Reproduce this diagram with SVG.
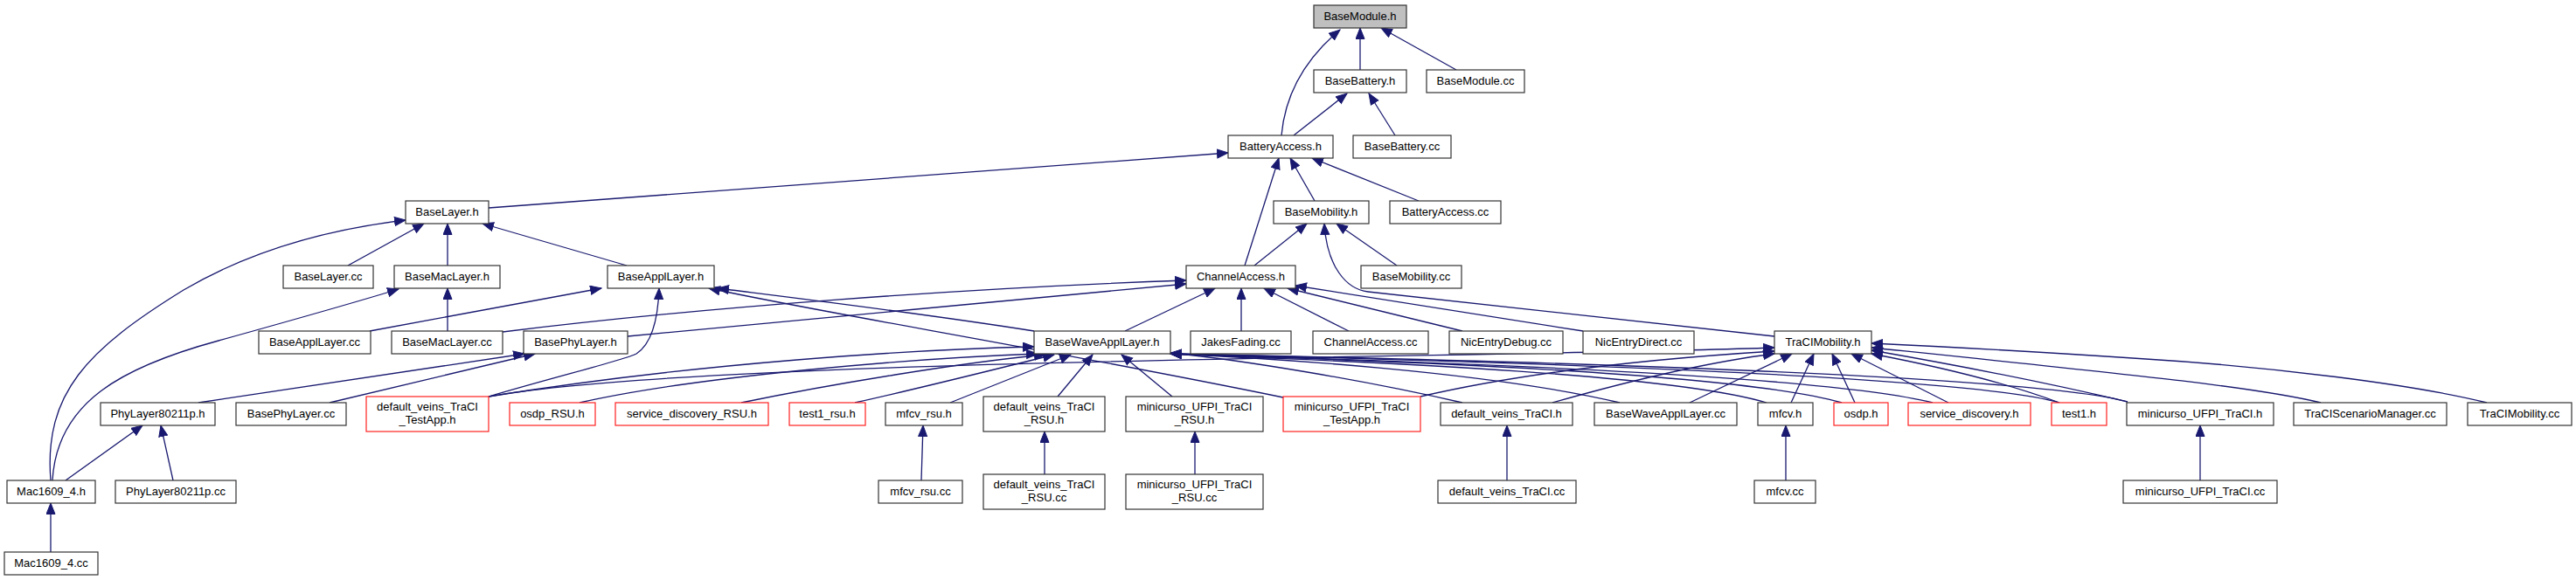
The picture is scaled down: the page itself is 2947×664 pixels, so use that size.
<svg xmlns="http://www.w3.org/2000/svg" width="2947" height="664" viewBox="0 0 2947 664">
<defs>
<style>
.n rect{fill:#fff;stroke:#333;stroke-width:1.2}
.n.r rect{stroke:#ff2020}
.n.g rect{fill:#bfbfbf}
.n text{font-family:"Liberation Sans",Arial,sans-serif;font-size:13px;fill:#000;text-anchor:middle}
.e path{fill:none;stroke:#191970;stroke-width:1.3;marker-end:url(#a)}
</style>
<marker id="a" markerUnits="userSpaceOnUse" markerWidth="14" markerHeight="12" refX="13" refY="5.5" orient="auto"><path d="M0.5,0.5L13,5.5L0.5,10.5z" fill="#191970" stroke="#191970" stroke-width="1"/></marker>
</defs>
<rect width="2947" height="664" fill="#fff"/>
<g id="edges" class="e">
<path d="M1466,155 C1470,110 1490,70 1533,34"/>
<path d="M1556,80 L1556,32"/>
<path d="M1666,80 L1580,32"/>
<path d="M1480,155 L1541,107"/>
<path d="M1596,155 L1566,107"/>
<path d="M559,238 L1405,175"/>
<path d="M1504,230 L1476,181"/>
<path d="M1424,304 L1463,181"/>
<path d="M1623,230 L1501,181"/>
<path d="M1435,304 L1495,256"/>
<path d="M1598,304 L1529,256"/>
<path d="M2030,385 L1565,334 C1540,331 1518,305 1515,256"/>
<path d="M398,304 L485,256"/>
<path d="M512,304 L512,256"/>
<path d="M717,304 L552,256"/>
<path d="M58,550 C50,450 100,400 210,332 C290,285 380,262 464,252"/>
<path d="M60,550 C65,460 140,420 250,390 C340,365 410,345 456,331"/>
<path d="M75,550 L163,487"/>
<path d="M198,550 L184,487"/>
<path d="M58,632 L58,576"/>
<path d="M512,379 L512,330"/>
<path d="M227,461 L600,405"/>
<path d="M377,461 L612,405"/>
<path d="M718,385 L1357,325"/>
<path d="M575,380 C800,352 1100,330 1357,321"/>
<path d="M423,379 L688,330"/>
<path d="M559,454 C640,430 715,412 728,405 C748,392 753,360 754,330"/>
<path d="M1183,379 C1050,358 900,340 821,330"/>
<path d="M1468,455 C1200,400 950,360 811,330"/>
<path d="M1287,379 L1390,330"/>
<path d="M1420,379 L1420,330"/>
<path d="M1543,379 L1446,330"/>
<path d="M1673,379 L1473,330"/>
<path d="M1811,379 L1482,327"/>
<path d="M559,454 C800,415 1050,400 1183,397"/>
<path d="M663,461 C800,430 1050,410 1187,405"/>
<path d="M848,461 C950,440 1100,415 1196,406"/>
<path d="M978,461 C1050,445 1150,420 1206,406"/>
<path d="M1087,461 L1225,406"/>
<path d="M1210,454 L1250,406"/>
<path d="M1341,454 L1283,406"/>
<path d="M1673,461 C1560,435 1420,412 1339,404"/>
<path d="M1853,461 C1700,425 1450,410 1339,405"/>
<path d="M2021,461 C1900,425 1500,412 1339,405"/>
<path d="M2107,461 C1980,425 1550,412 1339,405"/>
<path d="M2211,461 C2080,428 1600,413 1339,405"/>
<path d="M2356,461 C2250,430 1700,413 1339,405"/>
<path d="M2434,460 C2330,430 1750,413 1339,405"/>
<path d="M559,454 C800,410 1700,410 2030,398"/>
<path d="M1625,454 C1750,425 1900,410 2030,402"/>
<path d="M1776,461 C1850,440 1950,415 2030,405"/>
<path d="M1933,461 L2050,405"/>
<path d="M2049,461 L2075,405"/>
<path d="M2122,461 L2096,405"/>
<path d="M2229,461 L2118,405"/>
<path d="M2356,461 C2300,440 2220,420 2141,405"/>
<path d="M2434,460 C2350,440 2250,420 2141,401"/>
<path d="M2655,461 C2580,443 2450,430 2141,398"/>
<path d="M2845,461 C2760,440 2600,420 2455,411 C2350,404 2250,398 2141,393"/>
<path d="M1054,550 L1056,487"/>
<path d="M1195,543 L1195,494"/>
<path d="M1367,543 L1367,494"/>
<path d="M1724,550 L1724,487"/>
<path d="M2043,550 L2043,487"/>
<path d="M2517,550 L2517,487"/>
</g>
<g id="BaseModule_h" class="n g"><rect x="1503" y="6" width="106" height="26"/><text x="1556" y="23">BaseModule.h</text></g>
<g id="BaseBattery_h" class="n"><rect x="1503" y="80" width="106" height="26"/><text x="1556" y="97">BaseBattery.h</text></g>
<g id="BaseModule_cc" class="n"><rect x="1632" y="80" width="112" height="26"/><text x="1688" y="97">BaseModule.cc</text></g>
<g id="BatteryAccess_h" class="n"><rect x="1405" y="155" width="120" height="26"/><text x="1465" y="172">BatteryAccess.h</text></g>
<g id="BaseBattery_cc" class="n"><rect x="1548" y="155" width="112" height="26"/><text x="1604" y="172">BaseBattery.cc</text></g>
<g id="BaseLayer_h" class="n"><rect x="464" y="230" width="95" height="26"/><text x="511.5" y="247">BaseLayer.h</text></g>
<g id="BaseMobility_h" class="n"><rect x="1457" y="230" width="109" height="26"/><text x="1511.5" y="247">BaseMobility.h</text></g>
<g id="BatteryAccess_cc" class="n"><rect x="1590" y="230" width="127" height="26"/><text x="1653.5" y="247">BatteryAccess.cc</text></g>
<g id="BaseLayer_cc" class="n"><rect x="324" y="304" width="103" height="26"/><text x="375.5" y="321">BaseLayer.cc</text></g>
<g id="BaseMacLayer_h" class="n"><rect x="451" y="304" width="121" height="26"/><text x="511.5" y="321">BaseMacLayer.h</text></g>
<g id="BaseApplLayer_h" class="n"><rect x="695" y="304" width="122" height="26"/><text x="756" y="321">BaseApplLayer.h</text></g>
<g id="ChannelAccess_h" class="n"><rect x="1357" y="304" width="125" height="26"/><text x="1419.5" y="321">ChannelAccess.h</text></g>
<g id="BaseMobility_cc" class="n"><rect x="1557" y="304" width="115" height="26"/><text x="1614.5" y="321">BaseMobility.cc</text></g>
<g id="BaseApplLayer_cc" class="n"><rect x="296" y="379" width="128" height="26"/><text x="360" y="396">BaseApplLayer.cc</text></g>
<g id="BaseMacLayer_cc" class="n"><rect x="448" y="379" width="127" height="26"/><text x="511.5" y="396">BaseMacLayer.cc</text></g>
<g id="BasePhyLayer_h" class="n"><rect x="599" y="379" width="119" height="26"/><text x="658.5" y="396">BasePhyLayer.h</text></g>
<g id="BaseWaveApplLayer_h" class="n"><rect x="1183" y="379" width="156" height="26"/><text x="1261" y="396">BaseWaveApplLayer.h</text></g>
<g id="JakesFading_cc" class="n"><rect x="1362" y="379" width="115" height="26"/><text x="1419.5" y="396">JakesFading.cc</text></g>
<g id="ChannelAccess_cc" class="n"><rect x="1502" y="379" width="132" height="26"/><text x="1568" y="396">ChannelAccess.cc</text></g>
<g id="NicEntryDebug_cc" class="n"><rect x="1658" y="379" width="130" height="26"/><text x="1723" y="396">NicEntryDebug.cc</text></g>
<g id="NicEntryDirect_cc" class="n"><rect x="1811" y="379" width="127" height="26"/><text x="1874.5" y="396">NicEntryDirect.cc</text></g>
<g id="TraCIMobility_h" class="n"><rect x="2030" y="379" width="111" height="26"/><text x="2085.5" y="396">TraCIMobility.h</text></g>
<g id="PhyLayer80211p_h" class="n"><rect x="115" y="461" width="131" height="26"/><text x="180.5" y="478">PhyLayer80211p.h</text></g>
<g id="BasePhyLayer_cc" class="n"><rect x="270" y="461" width="126" height="26"/><text x="333" y="478">BasePhyLayer.cc</text></g>
<g id="default_veins_TraCI_TestApp_h" class="n r"><rect x="419" y="454" width="140" height="40"/><text x="489" y="470">default_veins_TraCI</text><text x="489" y="485">_TestApp.h</text></g>
<g id="osdp_RSU_h" class="n r"><rect x="583" y="461" width="98" height="26"/><text x="632" y="478">osdp_RSU.h</text></g>
<g id="service_discovery_RSU_h" class="n r"><rect x="704" y="461" width="175" height="26"/><text x="791.5" y="478">service_discovery_RSU.h</text></g>
<g id="test1_rsu_h" class="n r"><rect x="903" y="461" width="87" height="26"/><text x="946.5" y="478">test1_rsu.h</text></g>
<g id="mfcv_rsu_h" class="n"><rect x="1013" y="461" width="88" height="26"/><text x="1057" y="478">mfcv_rsu.h</text></g>
<g id="default_veins_TraCI_RSU_h" class="n"><rect x="1125" y="454" width="139" height="40"/><text x="1194.5" y="470">default_veins_TraCI</text><text x="1194.5" y="485">_RSU.h</text></g>
<g id="minicurso_UFPI_TraCI_RSU_h" class="n"><rect x="1288" y="454" width="157" height="40"/><text x="1366.5" y="470">minicurso_UFPI_TraCI</text><text x="1366.5" y="485">_RSU.h</text></g>
<g id="minicurso_UFPI_TraCI_TestApp_h" class="n r"><rect x="1468" y="454" width="157" height="40"/><text x="1546.5" y="470">minicurso_UFPI_TraCI</text><text x="1546.5" y="485">_TestApp.h</text></g>
<g id="default_veins_TraCI_h" class="n"><rect x="1648" y="461" width="151" height="26"/><text x="1723.5" y="478">default_veins_TraCI.h</text></g>
<g id="BaseWaveApplLayer_cc" class="n"><rect x="1824" y="461" width="163" height="26"/><text x="1905.5" y="478">BaseWaveApplLayer.cc</text></g>
<g id="mfcv_h" class="n"><rect x="2011" y="461" width="63" height="26"/><text x="2042.5" y="478">mfcv.h</text></g>
<g id="osdp_h" class="n r"><rect x="2098" y="461" width="62" height="26"/><text x="2129" y="478">osdp.h</text></g>
<g id="service_discovery_h" class="n r"><rect x="2183" y="461" width="140" height="26"/><text x="2253" y="478">service_discovery.h</text></g>
<g id="test1_h" class="n r"><rect x="2347" y="461" width="63" height="26"/><text x="2378.5" y="478">test1.h</text></g>
<g id="minicurso_UFPI_TraCI_h" class="n"><rect x="2433" y="461" width="168" height="26"/><text x="2517" y="478">minicurso_UFPI_TraCI.h</text></g>
<g id="TraCIScenarioManager_cc" class="n"><rect x="2624" y="461" width="175" height="26"/><text x="2711.5" y="478">TraCIScenarioManager.cc</text></g>
<g id="TraCIMobility_cc" class="n"><rect x="2823" y="461" width="119" height="26"/><text x="2882.5" y="478">TraCIMobility.cc</text></g>
<g id="Mac1609_4_h" class="n"><rect x="8" y="550" width="101" height="26"/><text x="58.5" y="567">Mac1609_4.h</text></g>
<g id="PhyLayer80211p_cc" class="n"><rect x="132" y="550" width="138" height="26"/><text x="201" y="567">PhyLayer80211p.cc</text></g>
<g id="mfcv_rsu_cc" class="n"><rect x="1005" y="550" width="96" height="26"/><text x="1053" y="567">mfcv_rsu.cc</text></g>
<g id="default_veins_TraCI_RSU_cc" class="n"><rect x="1125" y="543" width="139" height="40"/><text x="1194.5" y="559">default_veins_TraCI</text><text x="1194.5" y="574">_RSU.cc</text></g>
<g id="minicurso_UFPI_TraCI_RSU_cc" class="n"><rect x="1288" y="543" width="157" height="40"/><text x="1366.5" y="559">minicurso_UFPI_TraCI</text><text x="1366.5" y="574">_RSU.cc</text></g>
<g id="default_veins_TraCI_cc" class="n"><rect x="1645" y="550" width="158" height="26"/><text x="1724" y="567">default_veins_TraCI.cc</text></g>
<g id="mfcv_cc" class="n"><rect x="2007" y="550" width="70" height="26"/><text x="2042" y="567">mfcv.cc</text></g>
<g id="minicurso_UFPI_TraCI_cc" class="n"><rect x="2429" y="550" width="176" height="26"/><text x="2517" y="567">minicurso_UFPI_TraCI.cc</text></g>
<g id="Mac1609_4_cc" class="n"><rect x="5" y="632" width="107" height="26"/><text x="58.5" y="649">Mac1609_4.cc</text></g>
</svg>
